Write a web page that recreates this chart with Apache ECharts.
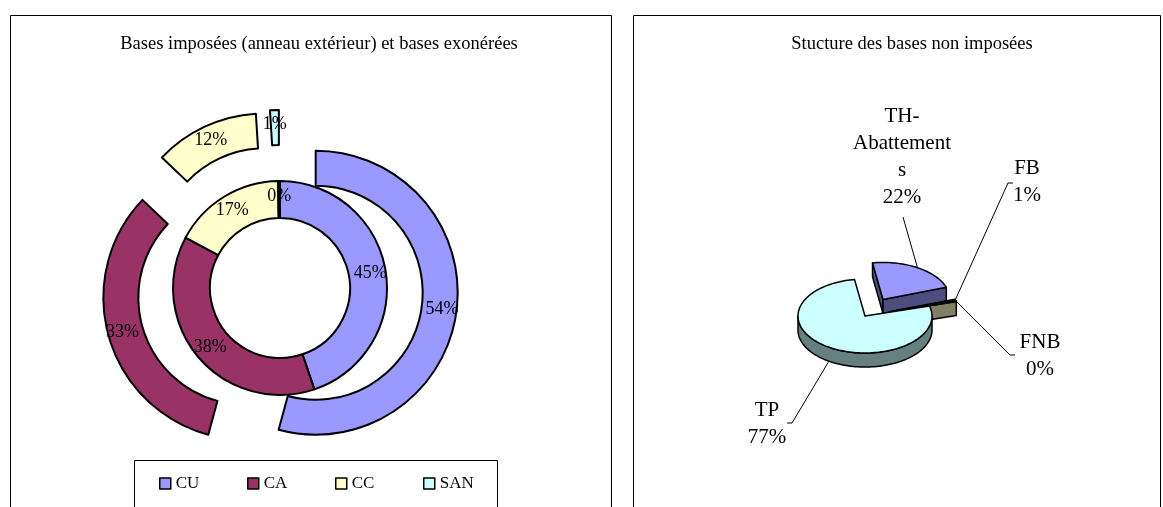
<!DOCTYPE html>
<html>
<head>
<meta charset="utf-8">
<script src="https://cdn.jsdelivr.net/npm/echarts@6/dist/echarts.min.js"></script>
<style>
html, body { margin: 0; padding: 0; background: #fff; }
#chart { width: 1163px; height: 507px; }
</style>
</head>
<body>
<div id="chart"></div>
<script>
// left chart : two rings
var ringCategories = ['CU', 'CA', 'CC', 'SAN'];
var taxedBases = [54.2, 32.9, 11.9, 1.0];   // outer ring (bases imposées)
var exemptBases = [44.8, 38.0, 16.9, 0.3];  // inner ring (bases exonérées)
var ringColors = ['#9999FF', '#993366', '#FFFFCC', '#CCFFFF'];

// right chart : 3d pie
var pieCategories = ['TH-\nAbattement\ns', 'FB', 'FNB', 'TP'];
var pieValues = [22.2, 0.6, 0.3, 76.9];
var pieColors = ['#9999FF', '#993366', '#FFFFCC', '#CCFFFF'];

var serif = 'Liberation Serif';
var pie3d = { cx: 865, cy: 316, rx: 67, ry: 37, depth: 14, start: -9 };
var pieExplode = [35, 28, 28, 0];
var pieLabelLayout = [
  { text: [902, 157], elbow: [903, 217], tick: 0 },
  { text: [1027, 182], elbow: [1008, 183], tick: 5 },
  { text: [1040, 356], elbow: [1010, 355], tick: 5 },
  { text: [767, 424], elbow: [792, 423], tick: -5 }
];
var legendLeft = [159, 247, 335, 423];

var chart = echarts.init(document.getElementById('chart'));

function darken(hex, k) {
  var n = parseInt(hex.slice(1), 16);
  var r = Math.round(((n >> 16) & 255) * k), g = Math.round(((n >> 8) & 255) * k), b = Math.round((n & 255) * k);
  return 'rgb(' + r + ',' + g + ',' + b + ')';
}

function ringData(values) {
  return values.map(function (v, i) {
    return { name: ringCategories[i], value: v, selected: values === taxedBases, itemStyle: { color: ringColors[i] } };
  });
}

function renderPie3d(params, api) {
  var i = params.dataIndex;
  var total = 0, before = 0;
  pieValues.forEach(function (v, j) { total += v; if (j < i) before += v; });
  var a1 = pie3d.start + before / total * 360;
  var a2 = a1 + api.value(0) / total * 360;
  var mid = (a1 + a2) / 2;
  var rad = Math.PI / 180;
  var off = pieExplode[i];
  var ox = pie3d.cx + off * Math.sin(mid * rad);
  var oy = pie3d.cy - off * Math.cos(mid * rad) * pie3d.ry / pie3d.rx;
  var d = pie3d.depth;
  function pt(a, dy) {
    return [ox + pie3d.rx * Math.sin(a * rad), oy - pie3d.ry * Math.cos(a * rad) + (dy || 0)];
  }
  function arc(from, to, dy) {
    var pts = [], n = Math.max(2, Math.ceil((to - from) / 2));
    for (var k = 0; k <= n; k++) pts.push(pt(from + (to - from) * k / n, dy));
    return pts;
  }
  var color = pieColors[i], side = darken(color, 0.5);
  var line = { stroke: '#000', lineWidth: 1.5, lineJoin: 'round' };
  var children = [];
  var f1 = Math.max(a1, 90), f2 = Math.min(a2, 270);
  if (f2 > f1) {
    children.push({ type: 'polygon', shape: { points: arc(f1, f2, 0).concat(arc(f1, f2, d).reverse()) },
      style: Object.assign({ fill: side }, line) });
  }
  if (Math.sin(a1 * rad) < 0) {
    children.push({ type: 'polygon', shape: { points: [[ox, oy], pt(a1), pt(a1, d), [ox, oy + d]] },
      style: Object.assign({ fill: side }, line) });
  }
  if (Math.sin(a2 * rad) > 0) {
    children.push({ type: 'polygon', shape: { points: [[ox, oy], pt(a2), pt(a2, d), [ox, oy + d]] },
      style: Object.assign({ fill: side }, line) });
  }
  children.push({ type: 'polygon', shape: { points: [[ox, oy]].concat(arc(a1, a2, 0)) },
    style: Object.assign({ fill: color }, line) });

  // label + leader line
  var lay = pieLabelLayout[i];
  var rim = pt(mid, (mid > 90 && mid < 270) ? d : 0);
  children.push({ type: 'polyline', shape: { points: [rim, lay.elbow, [lay.elbow[0] + lay.tick, lay.elbow[1]]] },
    style: { stroke: '#000', lineWidth: 1, fill: null } });
  children.push({ type: 'text', style: {
    text: pieCategories[i] + '\n' + Math.round(api.value(0) / total * 100) + '%',
    x: lay.text[0], y: lay.text[1], textAlign: 'center', textVerticalAlign: 'middle',
    fontFamily: serif, fontSize: 21, lineHeight: 27, fill: '#000' } });
  return { type: 'group', children: children };
}

var ringLabel = {
  show: true, position: 'inside', color: '#000', fontFamily: serif, fontSize: 18,
  formatter: function (p) { return Math.round(p.percent) + '%'; }
};

chart.setOption({
  animation: false,
  backgroundColor: '#fff',
  graphic: [
    { type: 'rect', shape: { x: 10.5, y: 15.5, width: 601, height: 520 }, style: { fill: null, stroke: '#000', lineWidth: 1 } },
    { type: 'rect', shape: { x: 633.5, y: 15.5, width: 527, height: 520 }, style: { fill: null, stroke: '#000', lineWidth: 1 } },
    { type: 'rect', shape: { x: 134.5, y: 460.5, width: 363, height: 80 }, style: { fill: '#fff', stroke: '#000', lineWidth: 1 }, z: -1 },
    { type: 'text', x: 319, y: 44, style: { text: 'Bases imposées (anneau extérieur) et bases exonérées', textAlign: 'center', textVerticalAlign: 'middle', fontFamily: serif, fontSize: 18.5, fill: '#000' } },
    { type: 'text', x: 912, y: 44, style: { text: 'Stucture des bases non imposées', textAlign: 'center', textVerticalAlign: 'middle', fontFamily: serif, fontSize: 18.5, fill: '#000' } }
  ],
  legend: ringCategories.map(function (c, i) {
    return {
      data: [c], left: legendLeft[i], top: 475, padding: 0,
      icon: 'rect', itemWidth: 11, itemHeight: 11, itemGap: 5,
      selectedMode: false,
      itemStyle: { borderColor: '#000', borderWidth: 1.5 },
      textStyle: { fontFamily: serif, fontSize: 17, color: '#000' }
    };
  }),
  series: [
    {
      type: 'pie', name: 'exonérées', center: [280, 288], radius: [70, 107],
      startAngle: 90, clockwise: true, silent: true,
      itemStyle: { borderColor: '#000', borderWidth: 2 },
      label: ringLabel, labelLine: { show: false },
      data: ringData(exemptBases)
    },
    {
      type: 'pie', name: 'imposées', center: [280, 288], radius: [107, 142],
      startAngle: 90, clockwise: true, silent: true,
      selectedMode: 'multiple', selectedOffset: 36,
      itemStyle: { borderColor: '#000', borderWidth: 2 },
      label: ringLabel, labelLine: { show: false },
      data: ringData(taxedBases)
    },
    {
      type: 'custom', coordinateSystem: 'none', silent: true,
      renderItem: renderPie3d,
      data: pieValues
    }
  ]
});
</script>
</body>
</html>
